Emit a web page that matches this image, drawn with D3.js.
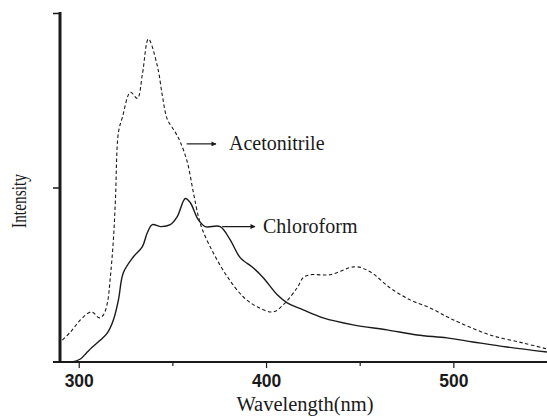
<!DOCTYPE html>
<html>
<head>
<meta charset="utf-8">
<script src="https://cdn.jsdelivr.net/npm/d3@7"></script>
<style>
  html, body { margin: 0; padding: 0; background: #fff; }
  svg { display: block; }
</style>
</head>
<body>
<div id="plot"></div>
<script>
// emission spectra (wavelength nm, relative intensity)
const acetonitrileWl = [291.3, 295.6, 300.9, 306.8, 311.0, 313.2, 315.3, 316.9, 318.5, 319.6, 321.2, 323.3,
  327.6, 331.3, 334.0, 337.2, 342.0, 344.7, 347.3, 351.6, 354.3, 358.0, 361.2, 363.9, 366.0, 371.8,
  379.3, 387.8, 395.3, 403.8, 409.2, 416.6, 419.8, 423.6, 434.2, 447.6, 455.6, 466.2, 476.9, 487.6,
  496.6, 503.6, 519.6, 537.2, 550];
const acetonitrileVal = [0.126, 0.172, 0.241, 0.287, 0.253, 0.270, 0.339, 0.489, 0.70, 0.931, 1.316, 1.402,
  1.546, 1.511, 1.65, 1.851, 1.695, 1.523, 1.391, 1.316, 1.259, 1.144, 0.971, 0.833, 0.759, 0.626,
  0.489, 0.374, 0.316, 0.287, 0.328, 0.425, 0.483, 0.5, 0.5, 0.546, 0.517, 0.425, 0.356, 0.310,
  0.259, 0.224, 0.155, 0.109, 0.075];

const chloroformWl = [290, 296.4, 300.9, 304.1, 307.3, 311.6, 315.3, 318.5, 321.2, 323.8, 329.2, 334.0,
  336.6, 339.3, 343.6, 348.9, 352.6, 356.9, 359.5, 363.8, 367.5, 375.5, 380.8, 386.2, 393.1, 398.5,
  406.0, 411.3, 419.8, 430.5, 446.5, 464.6, 480.6, 496.6, 510.5, 528.6, 550];
const chloroformVal = [0, 0, 0.017, 0.052, 0.086, 0.126, 0.167, 0.241, 0.356, 0.511, 0.603, 0.661,
  0.741, 0.787, 0.776, 0.787, 0.833, 0.937, 0.914, 0.816, 0.776, 0.776, 0.701, 0.598, 0.540, 0.483,
  0.385, 0.339, 0.299, 0.253, 0.213, 0.184, 0.155, 0.138, 0.115, 0.086, 0.057];

const xTicks = [300, 400, 500];
const xMinorTicks = [350, 450];
const yTicks = [1, 2];

const width = 547;
const height = 417;

const svg = d3.select('#plot').append('svg')
    .attr('width', width)
    .attr('height', height);

const x = d3.scaleLinear().domain([290, 550]).range([60, 547]);
const y = d3.scaleLinear().domain([0, 2]).range([362, 13]);

const ink = '#1a1a1a';

// x axis
const xAxis = svg.append('g')
    .attr('transform', `translate(0,${y(0)})`)
    .call(d3.axisBottom(x).tickValues(xTicks).tickSize(6).tickPadding(7).tickFormat(d3.format('d')));
xAxis.select('.domain').remove();
xAxis.selectAll('line').attr('stroke', ink).attr('stroke-width', 1.2);
xAxis.selectAll('text')
    .attr('fill', ink)
    .attr('font-family', '"Liberation Sans", Arial, sans-serif')
    .attr('font-weight', 'bold')
    .attr('font-size', '17.5px');

svg.append('g')
    .attr('transform', `translate(0,${y(0)})`)
    .call(d3.axisBottom(x).tickValues(xMinorTicks).tickSize(4).tickFormat(''))
    .call(g => g.select('.domain').remove())
    .selectAll('line').attr('stroke', ink).attr('stroke-width', 1.2);

svg.append('line')
    .attr('x1', 53).attr('x2', 547)
    .attr('y1', y(0)).attr('y2', y(0))
    .attr('stroke', ink).attr('stroke-width', 2);

// y axis
const yAxis = svg.append('g')
    .attr('transform', `translate(${x(290)},0)`)
    .call(d3.axisLeft(y).tickValues(yTicks).tickSize(7).tickFormat(''));
yAxis.select('.domain').remove();
yAxis.selectAll('line').attr('stroke', ink).attr('stroke-width', 1.5);

svg.append('line')
    .attr('x1', x(290)).attr('x2', x(290))
    .attr('y1', y(2) - 1).attr('y2', y(0) + 1)
    .attr('stroke', ink).attr('stroke-width', 3);

// curves
const line = d3.line()
    .x(d => x(d[0]))
    .y(d => y(d[1]))
    .curve(d3.curveCatmullRom.alpha(0.5));

const acetonitrile = acetonitrileWl.map((w, i) => [w, acetonitrileVal[i]]);
const chloroform = chloroformWl.map((w, i) => [w, chloroformVal[i]]);

svg.append('path')
    .datum(acetonitrile)
    .attr('d', line)
    .attr('fill', 'none')
    .attr('stroke', ink)
    .attr('stroke-width', 1.1)
    .attr('stroke-dasharray', '3.5,2.5');

svg.append('path')
    .datum(chloroform)
    .attr('d', line)
    .attr('fill', 'none')
    .attr('stroke', ink)
    .attr('stroke-width', 1.4);

// annotations with arrows
svg.append('defs').append('marker')
    .attr('id', 'arrow')
    .attr('viewBox', '0 0 10 10')
    .attr('refX', 9).attr('refY', 5)
    .attr('markerWidth', 7).attr('markerHeight', 5)
    .attr('markerUnits', 'userSpaceOnUse')
    .attr('orient', 'auto')
    .append('path')
    .attr('d', 'M0,0 L10,5 L0,10 Z')
    .attr('fill', ink);

const notes = [
    {label: 'Acetonitrile', wl: 356, val: 1.25, x2: 216, tx: 229},
    {label: 'Chloroform', wl: 375, val: 0.776, x2: 255, tx: 263}
];

notes.forEach(n => {
    svg.append('line')
        .attr('x1', x(n.wl) + 3).attr('x2', n.x2)
        .attr('y1', y(n.val)).attr('y2', y(n.val))
        .attr('stroke', ink).attr('stroke-width', 1.2)
        .attr('marker-end', 'url(#arrow)');
    svg.append('text')
        .attr('x', n.tx)
        .attr('y', y(n.val) + 6.5)
        .attr('fill', ink)
        .attr('font-family', '"Liberation Serif", "Times New Roman", serif')
        .attr('font-size', '20px')
        .text(n.label);
});

// axis titles
svg.append('text')
    .attr('x', 305)
    .attr('y', 411)
    .attr('text-anchor', 'middle')
    .attr('fill', ink)
    .attr('font-family', '"Liberation Serif", "Times New Roman", serif')
    .attr('font-size', '20.5px')
    .text('Wavelength(nm)');

svg.append('text')
    .attr('transform', 'translate(26,228) rotate(-90)')
    .attr('fill', ink)
    .attr('font-family', '"Liberation Serif", "Times New Roman", serif')
    .attr('font-size', '22px')
    .attr('textLength', 54)
    .attr('lengthAdjust', 'spacingAndGlyphs')
    .text('Intensity');
</script>
</body>
</html>
